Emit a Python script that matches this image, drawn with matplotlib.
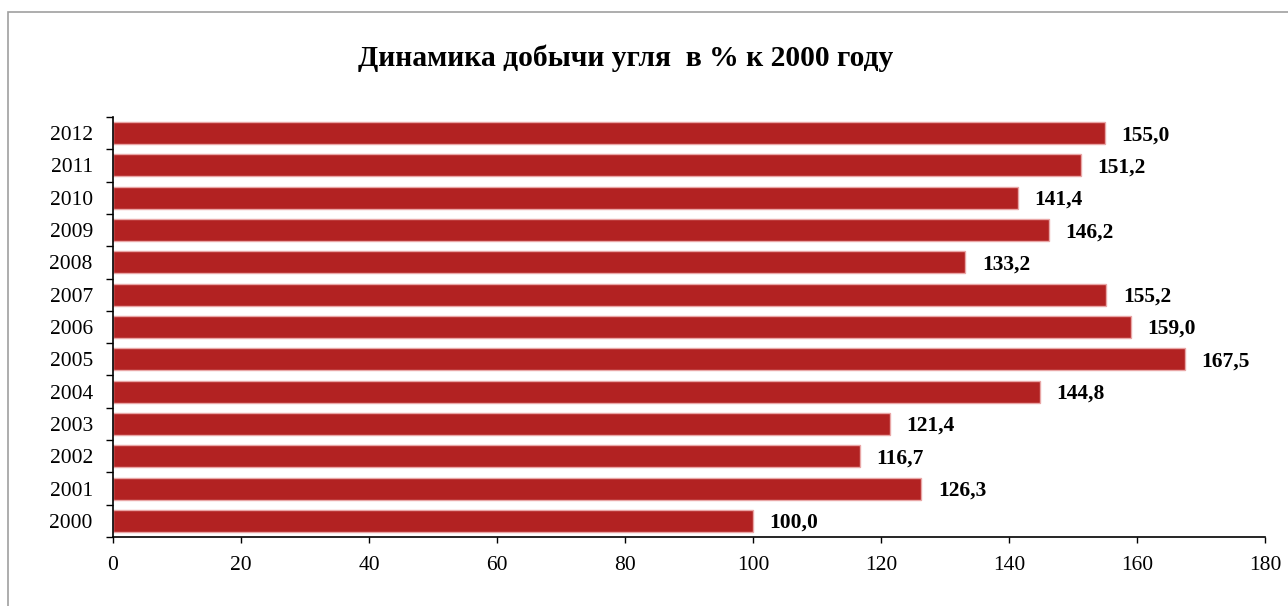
import numpy as np
import matplotlib
matplotlib.use("Agg")
import matplotlib.pyplot as plt
from matplotlib.patches import Rectangle
from matplotlib.ticker import FixedLocator

plt.rcParams['font.family'] = ['Liberation Serif', 'DejaVu Serif']

# Données
annees = ["2000", "2001", "2002", "2003", "2004", "2005", "2006",
          "2007", "2008", "2009", "2010", "2011", "2012"]
valeurs = [100.0, 126.3, 116.7, 121.4, 144.8, 167.5, 159.0,
           155.2, 133.2, 146.2, 141.4, 151.2, 155.0]
titre = "Динамика добычи угля  в % к 2000 году"

f = plt.figure(figsize=(12.88, 6.06), dpi=100)
ax = f.add_axes([113 / 1288, 1 - 537 / 606, 1152 / 1288, 420 / 606])

y = np.arange(len(annees))
ax.barh(y, valeurs, height=0.68, color='#B22222', edgecolor='#E9A6A6', linewidth=1.0)

# Étiquettes de valeurs (virgule décimale)
for yi, v in zip(y, valeurs):
    ax.annotate(f"{v:.1f}".replace('.', ','), (v, yi), xytext=(12, -1.5),
                textcoords='offset points', ha='left', va='center',
                fontsize=15.5, fontweight='bold')

ax.set_xlim(0, 180)
ax.set_ylim(-0.5, len(annees) - 0.5)
ax.set_xticks(np.arange(0, 181, 20))
ax.set_yticks(y)
ax.set_yticklabels(annees)
ax.yaxis.set_minor_locator(FixedLocator(np.arange(-0.5, len(annees), 1)))

ax.tick_params(axis='y', which='major', length=0, pad=14.5, labelsize=15.5)
ax.tick_params(axis='y', which='minor', length=5, width=1)
ax.tick_params(axis='x', which='major', length=4, width=1, pad=9.5, labelsize=15.5)

for s in ['top', 'right']:
    ax.spines[s].set_visible(False)
for s in ['left', 'bottom']:
    ax.spines[s].set_linewidth(1.2)

f.text(626 / 1288, 1 - 58 / 606, titre, ha='center', va='center',
       fontsize=21.3, fontweight='bold')

# Cadre gris autour du graphique
f.add_artist(Rectangle((8 / 1288, -0.2), 1.2, 1.2 - 12 / 606, transform=f.transFigure,
                       fill=False, edgecolor='#A0A0A0', linewidth=1.2, clip_on=False))

f.savefig("out.png", dpi=100)
